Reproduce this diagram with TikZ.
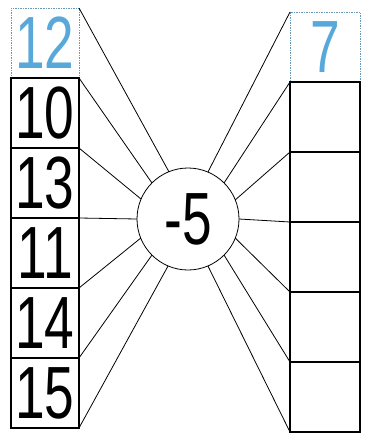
\documentclass[tikz,border=0pt]{standalone}
\usepackage{fontspec}
\setmainfont{Liberation Sans}
\usepackage{graphicx}
\definecolor{azul}{RGB}{88,168,218}
\newcommand{\cifra}[1]{\scalebox{0.72}[1]{\fontsize{74}{74}\selectfont #1}}

\begin{document}
\begin{tikzpicture}[
  x=1pt, y=-1pt,
  caja/.style={draw, line width=1.5pt, minimum width=68pt, minimum height=70pt,
               inner sep=0pt, outer sep=0pt},
  ejemplo/.style={caja, draw=azul!60!gray, densely dotted, line width=0.8pt, text=azul},
  centro/.style={draw, circle, line width=0.8pt, minimum size=102pt, inner sep=0pt, outer sep=0pt},
  rayo/.style={line width=0.8pt}
]
  \useasboundingbox (0,0) rectangle (366,439);

  % columna izquierda
  \node[ejemplo] (l1) at (45,43)  {\cifra{12}};
  \node[caja]    (l2) at (45,113) {\cifra{10}};
  \node[caja]    (l3) at (45,183) {\cifra{13}};
  \node[caja]    (l4) at (45,253) {\cifra{11}};
  \node[caja]    (l5) at (45,323) {\cifra{14}};
  \node[caja]    (l6) at (45,393) {\cifra{15}};

  % columna derecha
  \node[ejemplo, minimum width=70pt] (r1) at (325,47)  {\cifra{7}};
  \node[caja, minimum width=70pt]    (r2) at (325,117) {};
  \node[caja, minimum width=70pt]    (r3) at (325,187) {};
  \node[caja, minimum width=70pt]    (r4) at (325,257) {};
  \node[caja, minimum width=70pt]    (r5) at (325,327) {};
  \node[caja, minimum width=70pt]    (r6) at (325,397) {};

  % operador
  \node[centro] (c) at (188,219) {\cifra{-5}};

  \draw[rayo] (l1.north east) -- (c.112.5);
  \draw[rayo] (l1.south east) -- (c.135);
  \draw[rayo] (l2.south east) -- (c.157.5);
  \draw[rayo] (l3.south east) -- (c.180);
  \draw[rayo] (l4.south east) -- (c.202.5);
  \draw[rayo] (l5.south east) -- (c.225);
  \draw[rayo] (l6.south east) -- (c.247.5);

  \draw[rayo] (r1.north west) -- (c.67.5);
  \draw[rayo] (r1.south west) -- (c.45);
  \draw[rayo] (r2.south west) -- (c.22.5);
  \draw[rayo] (r3.south west) -- (c.0);
  \draw[rayo] (r4.south west) -- (c.-22.5);
  \draw[rayo] (r5.south west) -- (c.-45);
  \draw[rayo] (r6.south west) -- (c.-67.5);
\end{tikzpicture}
\end{document}
